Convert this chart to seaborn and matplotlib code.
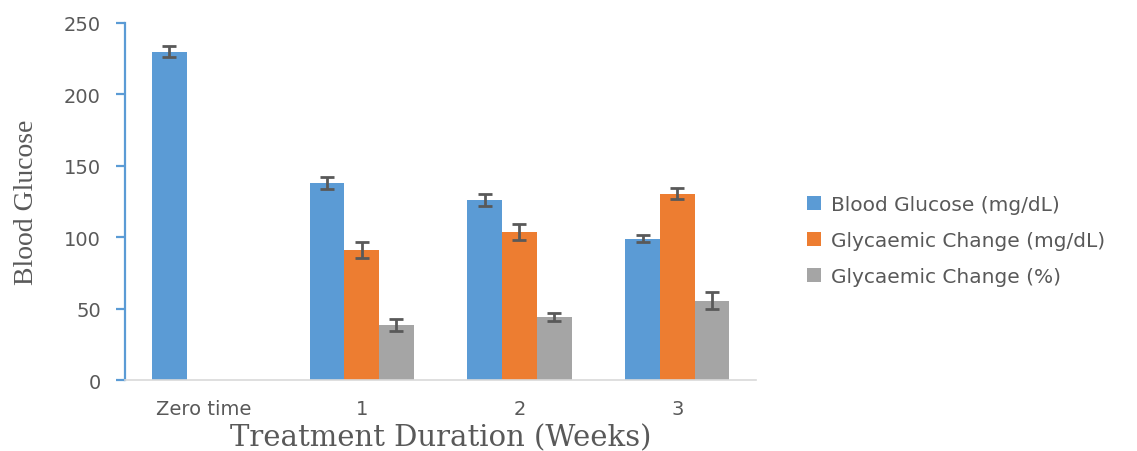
import pandas as pd
import matplotlib
matplotlib.use('Agg')
import matplotlib.pyplot as plt
import seaborn as sns

# data
weeks = ['Zero time', '1', '2', '3']
series = ['Blood Glucose (mg/dL)', 'Glycaemic Change (mg/dL)', 'Glycaemic Change (%)']
blood_glucose = [230, 138, 126, 99]
blood_glucose_err = [4, 4.5, 4.2, 2.3]
change_mgdl = [None, 91, 103.5, 130.5]
change_mgdl_err = [None, 5.4, 5.8, 3.9]
change_pct = [None, 38.7, 44.3, 55.5]
change_pct_err = [None, 4.2, 2.7, 5.8]

colors = ['#5B9BD5', '#ED7D31', '#A5A5A5']
text_grey = '#595959'

rows = []
for name, vals, errs in zip(series,
                            [blood_glucose, change_mgdl, change_pct],
                            [blood_glucose_err, change_mgdl_err, change_pct_err]):
    for wk, v, e in zip(weeks, vals, errs):
        if v is not None:
            rows.append({'week': wk, 'series': name, 'value': v, 'err': e})
df = pd.DataFrame(rows)

sns.set_style('white')
fig = plt.figure(figsize=(11.37, 4.52), dpi=100)
ax = fig.add_axes([0.110, 0.157, 0.555, 0.790])

sns.barplot(data=df, x='week', y='value', hue='series', order=weeks,
            hue_order=series, palette=colors, width=0.66, dodge=True,
            errorbar=None, edgecolor='none', saturation=1, ax=ax)

# error bars, matched to bars by category position
bar_conts = list(ax.containers)
for i, cont in enumerate(bar_conts):
    sub = df[df['series'] == series[i]].set_index('week')
    for bar in cont:
        cx = bar.get_x() + bar.get_width() / 2
        wk = weeks[int(round(cx))]
        if wk not in sub.index:
            continue
        ax.errorbar(cx, sub.loc[wk, 'value'], yerr=sub.loc[wk, 'err'],
                    fmt='none', ecolor=text_grey, elinewidth=2,
                    capsize=5, capthick=2, zorder=5)

ax.set_ylim(0, 250)
ax.set_xlim(-0.5, 3.5)
ax.set_yticks([0, 50, 100, 150, 200, 250])

for s in ['top', 'right']:
    ax.spines[s].set_visible(False)
ax.spines['left'].set_color('#5B9BD5')
ax.spines['left'].set_linewidth(1.6)
ax.spines['bottom'].set_color('#D9D9D9')
ax.spines['bottom'].set_linewidth(1.2)
ax.tick_params(axis='y', left=True, direction='out', length=6.5, width=1.6,
               color='#5B9BD5', labelsize=14, labelcolor=text_grey, pad=11)
ax.tick_params(axis='x', bottom=False, labelsize=14, labelcolor=text_grey, pad=10)

ax.set_xlabel('Treatment Duration (Weeks)', fontsize=21, family='DejaVu Serif',
              color=text_grey, labelpad=4)
ax.set_ylabel('Blood Glucose', fontsize=20, family='Liberation Serif',
              color=text_grey, labelpad=18)

ax.legend(loc='upper left', bbox_to_anchor=(0.694, 0.607),
          bbox_transform=fig.transFigure, frameon=False, fontsize=14.5,
          handlelength=0.7, handleheight=0.7, handletextpad=0.5,
          labelspacing=0.85, labelcolor=text_grey)

plt.savefig('out.png', dpi=100)
